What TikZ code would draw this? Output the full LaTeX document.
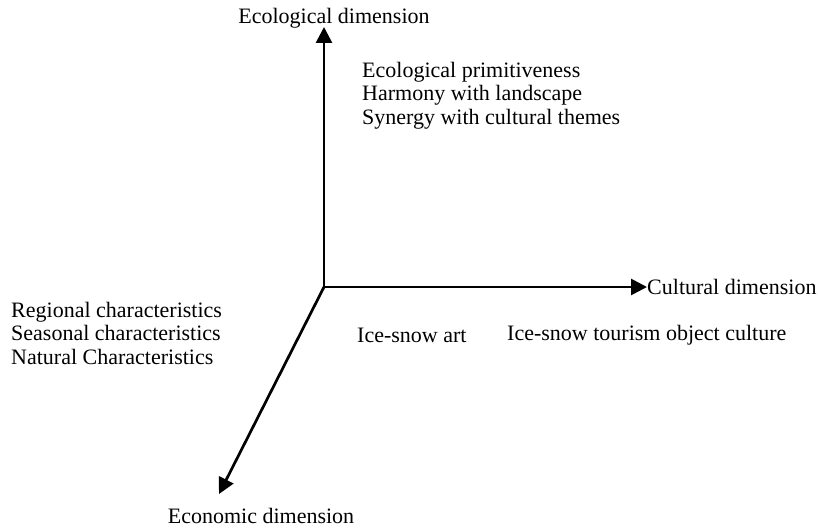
\documentclass[tikz,border=0pt]{standalone}
\usepackage{fontspec}
\setmainfont{Liberation Serif}
\usetikzlibrary{arrows.meta}
\begin{document}
\begin{tikzpicture}[x=1pt,y=-1pt,
  lbl/.style={font=\fontsize{22}{23.5}\selectfont, inner sep=0pt},
  blk/.style={lbl, align=left, anchor=north west},
  axis/.style={line width=2.7pt, -{Triangle[length=16pt,width=16pt]}}]
\useasboundingbox (0,0) rectangle (818,529);
\coordinate (O) at (324,287);
\coordinate (ecotip) at (324,27);
\coordinate (econtip) at (219,494);
\node[lbl, anchor=base] (ecolbl) at (334,24) {Ecological dimension};
\node[lbl, anchor=west] (cult) at (647,287) {Cultural dimension};
\node[lbl, anchor=base] (econlbl) at (261,523) {Economic dimension};
\draw[axis] (O) -- (ecotip);
\draw[axis] (O) -- (cult.west);
\draw[axis] (O) -- (econtip);
\node[blk] (ecotext) at (362,62) {Ecological primitiveness\\Harmony with landscape\\Synergy with cultural themes};
\node[blk] (lefttext) at (11,302) {Regional characteristics\\Seasonal characteristics\\Natural Characteristics};
\node[lbl, anchor=west] (art) at (357,335) {Ice-snow art};
\node[lbl, anchor=west] (obj) at (507,335) {Ice-snow tourism object culture};
\end{tikzpicture}
\end{document}
